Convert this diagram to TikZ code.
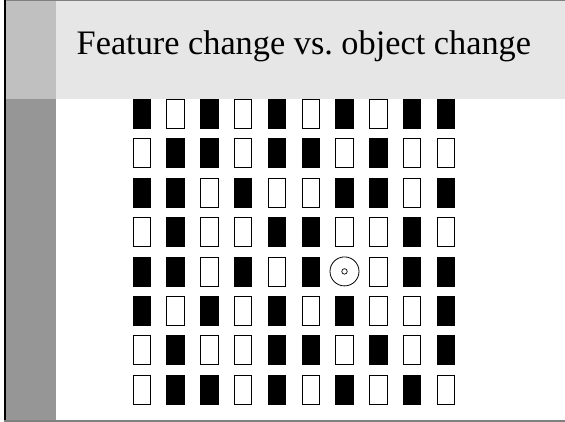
\documentclass[tikz,border=0pt]{standalone}
\usepackage{fontspec}
\setmainfont{Liberation Serif}
\frenchspacing
\definecolor{bandgray}{HTML}{E6E6E6}
\definecolor{topbargray}{HTML}{C0C0C0}
\definecolor{lowbargray}{HTML}{969696}
\definecolor{rulegray}{HTML}{808080}
\tikzset{
    barshape/.style={draw=black, line width=0.8pt, minimum width=17.5pt, minimum height=29pt, inner sep=0pt},
    onbar/.style={barshape, fill=black},
    offbar/.style={barshape, fill=white},
    targetring/.style={shape=circle, draw=black, line width=0.8pt, minimum size=29pt, inner sep=0pt},
    targetdot/.style={shape=circle, draw=black, line width=0.7pt, minimum size=5.5pt, inner sep=0pt}
}

\begin{document}
\begin{tikzpicture}[x=1pt,y=-1pt]
    \useasboundingbox (0,0) rectangle (565,422);
    % slide background
    \fill[bandgray] (56,0) rectangle (565,98.7);
    \fill[topbargray] (5,0) rectangle (56,98.7);
    \fill[lowbargray] (5,98.7) rectangle (56,420);
    \draw[rulegray, line width=1pt] (5,0.5) -- (565,0.5);
    \draw[black, line width=1.5pt] (5,0) -- (5,420);
    \draw[rulegray, line width=2pt] (4,420.5) -- (565,420.5);

    \node[anchor=base west, inner sep=0pt, font=\fontsize{34.3}{40}\selectfont] (title) at (76.5,54.3) {Feature change vs. object change};

    % 1 = black bar, 0 = white bar, 2 = target
    \foreach \row [count=\r] in {
        {1,0,1,0,1,0,1,0,1,1},
        {0,1,1,0,1,1,0,1,0,0},
        {1,1,0,1,0,0,1,1,0,1},
        {0,1,0,0,1,1,0,0,1,0},
        {1,1,0,1,0,1,2,0,1,1},
        {1,0,1,0,1,0,1,0,0,1},
        {0,1,0,0,1,1,0,1,0,1},
        {0,1,1,0,1,0,1,0,1,0}} {
        \foreach \v [count=\c] in \row {
            \ifnum\v=1
                \node[onbar] (bar-\r-\c) at ({141.7+(\c-1)*33.8},{113.7+(\r-1)*39.43}) {};
            \fi
            \ifnum\v=0
                \node[offbar] (bar-\r-\c) at ({141.7+(\c-1)*33.8},{113.7+(\r-1)*39.43}) {};
            \fi
            \ifnum\v=2
                \node[targetring] (target) at ({141.7+(\c-1)*33.8},{113.7+(\r-1)*39.43}) {};
                \node[targetdot] (target-dot) at (target.center) {};
            \fi
        }
    }
\end{tikzpicture}
\end{document}
